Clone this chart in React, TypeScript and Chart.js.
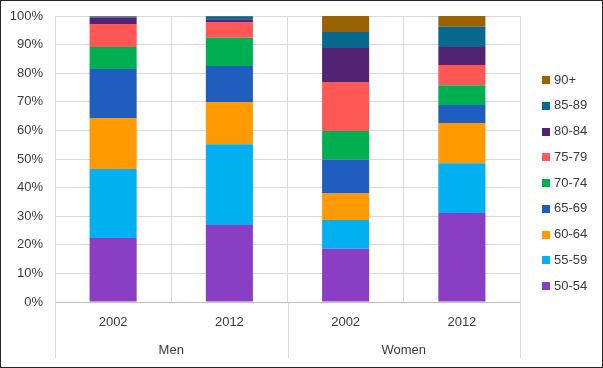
import React, { useEffect, useRef } from "react";
import { Chart, registerables } from "chart.js";

Chart.register(...registerables);

const categories = ["2002", "2012", "2002", "2012"];
const groups = ["Men", "Women"];
const ageBands = ["50-54", "55-59", "60-64", "65-69", "70-74", "75-79", "80-84", "85-89", "90+"];
const colors = ["#8A3EC3", "#00B0F0", "#FF9A00", "#1F5EBE", "#00B050", "#FF5656", "#532373", "#08688E", "#9A6200"];

// values per age band: [Men 2002, Men 2012, Women 2002, Women 2012]
const v5054 = [22.4, 26.9, 18.6, 31.1];
const v5559 = [24.1, 28.3, 10.1, 17.4];
const v6064 = [17.8, 14.7, 9.2, 14.1];
const v6569 = [17.2, 12.6, 11.8, 6.3];
const v7074 = [7.7, 9.9, 10.1, 6.9];
const v7579 = [8.0, 5.3, 17.1, 7.1];
const v8084 = [2.3, 1.2, 11.9, 6.3];
const v8589 = [0.3, 1.0, 5.6, 7.0];
const v90 = [0.2, 0.1, 5.6, 3.8];
const seriesValues = [v5054, v5559, v6064, v6569, v7074, v7579, v8084, v8589, v90];

const yTicks = [0, 10, 20, 30, 40, 50, 60, 70, 80, 90, 100];

const FONT = "'Liberation Sans', Arial, sans-serif";
const TEXT = "#3a3a3a";

export default function App() {
  const ref = useRef<HTMLCanvasElement | null>(null);

  useEffect(() => {
    if (!ref.current) return;
    const extras = {
      id: "extras",
      beforeDraw(chart: any) {
        const ctx = chart.ctx;
        ctx.save();
        ctx.fillStyle = "#ffffff";
        ctx.fillRect(0, 0, chart.width, chart.height);
        ctx.restore();
      },
      afterDraw(chart: any) {
        const ctx = chart.ctx;
        const xs = chart.scales.x;
        const area = chart.chartArea;
        ctx.save();
        const t = [0, 1, 2, 3].map((i) => xs.getPixelForTick(i));
        const seps = [xs.left, (t[1] + t[2]) / 2, xs.right];
        ctx.strokeStyle = "#d9d9d9";
        ctx.lineWidth = 1;
        seps.forEach((x) => {
          const px = Math.round(x) + 0.5;
          ctx.beginPath();
          ctx.moveTo(px, area.bottom);
          ctx.lineTo(px, 358);
          ctx.stroke();
        });
        ctx.fillStyle = TEXT;
        ctx.font = `13px ${FONT}`;
        ctx.textAlign = "center";
        ctx.textBaseline = "middle";
        ctx.fillText(groups[0], (t[0] + t[1]) / 2, 350);
        ctx.fillText(groups[1], (t[2] + t[3]) / 2, 350);
        ctx.textAlign = "left";
        const n = ageBands.length;
        for (let k = 0; k < n; k++) {
          const i = n - 1 - k;
          const cy = 80 + k * 25.75;
          ctx.fillStyle = colors[i];
          ctx.fillRect(542, Math.round(cy - 4), 8, 8);
          ctx.fillStyle = TEXT;
          ctx.fillText(ageBands[i], 554, cy);
        }
        ctx.strokeStyle = "#262626";
        ctx.strokeRect(0.5, 0.5, chart.width - 1, chart.height - 1);
        ctx.restore();
      },
    };

    const chart = new Chart(ref.current, {
      type: "bar",
      data: {
        labels: categories,
        datasets: ageBands.map((b, i) => ({
          label: b,
          data: seriesValues[i],
          backgroundColor: colors[i],
          borderWidth: 0,
          categoryPercentage: 1,
          barPercentage: 0.405,
        })),
      },
      options: {
        responsive: false,
        animation: false,
        layout: { padding: { top: 16, right: 83, left: 0, bottom: 0 } },
        plugins: { legend: { display: false }, tooltip: { enabled: false } },
        scales: {
          x: {
            stacked: true,
            grid: { offset: true, color: "#d9d9d9", drawTicks: false },
            border: { color: "#bfbfbf" },
            ticks: { color: TEXT, font: { family: FONT, size: 13 }, padding: 13 },
            afterFit(s: any) {
              s.height = 66;
              s.paddingLeft = 0;
              s.paddingRight = 0;
            },
          },
          y: {
            stacked: true,
            min: 0,
            max: 100,
            afterBuildTicks(s: any) {
              s.ticks = yTicks.map((v) => ({ value: v }));
            },
            grid: { color: "#d9d9d9", drawTicks: false },
            border: { display: false },
            ticks: {
              color: TEXT,
              font: { family: FONT, size: 13 },
              padding: 12,
              callback: (v: any) => v + "%",
            },
            afterFit(s: any) {
              s.width = 55;
              s.paddingTop = 0;
              s.paddingBottom = 0;
            },
          },
        },
      },
      plugins: [extras],
    });
    return () => chart.destroy();
  }, []);

  return (
    <div style={{ position: "fixed", left: 0, top: 0, width: 603, height: 368 }}>
      <canvas ref={ref} width={603} height={368} style={{ display: "block" }} />
    </div>
  );
}
